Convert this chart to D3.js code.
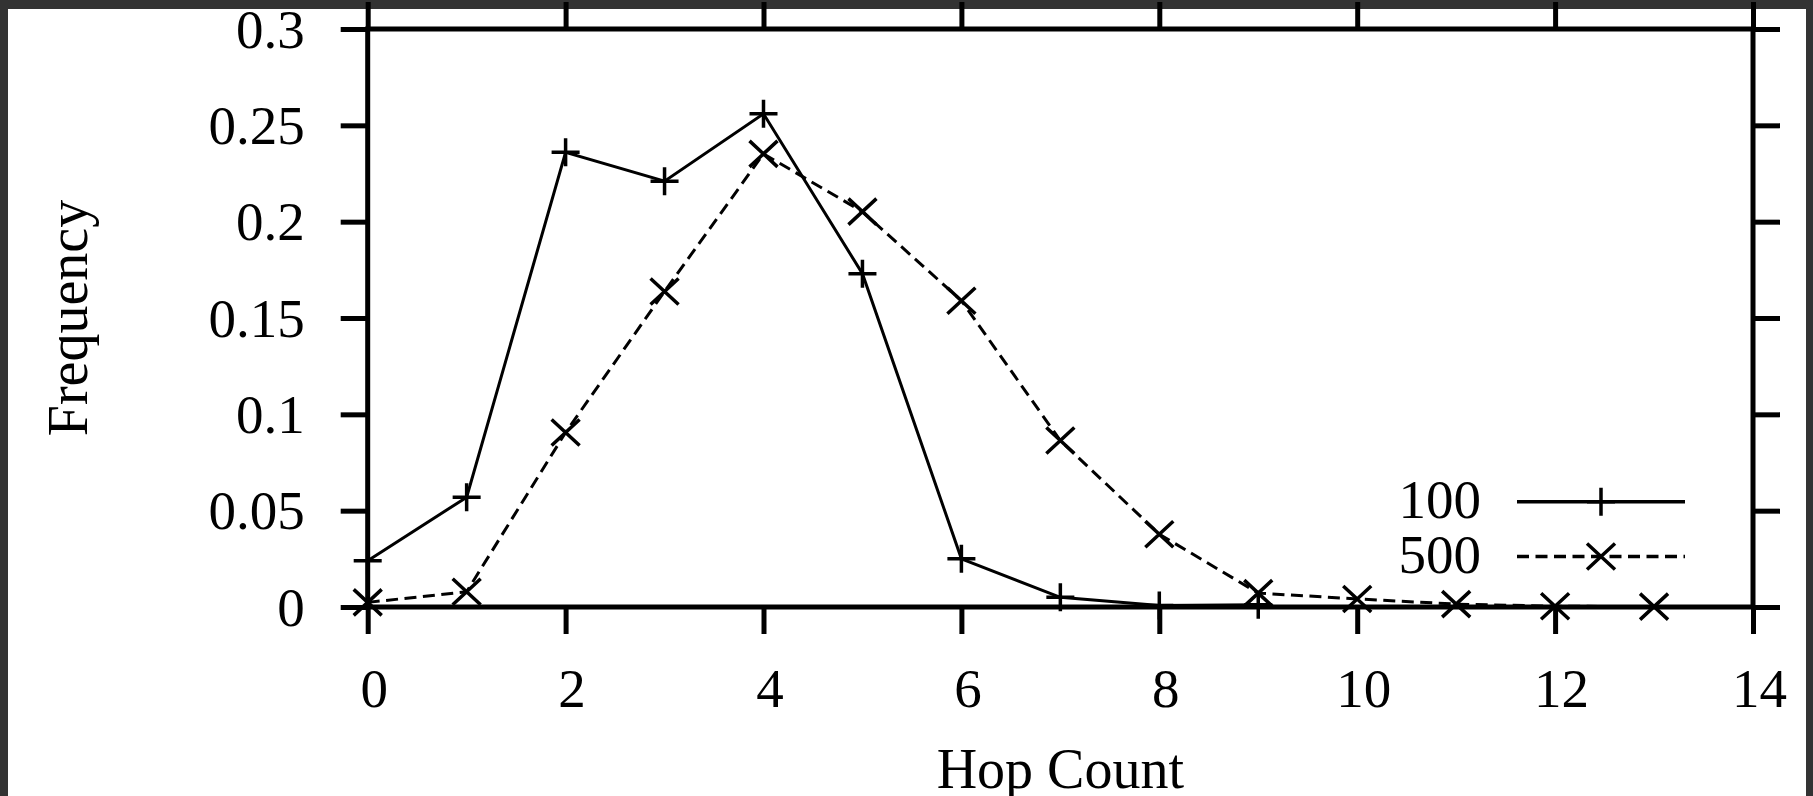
<!DOCTYPE html>
<html>
<head>
<meta charset="utf-8">
<script src="https://cdn.jsdelivr.net/npm/d3@7"></script>
<style>
  html, body { margin: 0; padding: 0; background: #333333; }
  svg { display: block; }
  text { font-family: "Liberation Serif", "DejaVu Serif", serif; fill: #000; }
</style>
</head>
<body>
<svg id="chart" width="1813" height="796"></svg>
<script>
// ---- data ----
const hops100 = [0, 1, 2, 3, 4, 5, 6, 7, 8, 9];
const freq100 = [0.024, 0.057, 0.236, 0.221, 0.256, 0.173, 0.025, 0.005, 0.0008, 0.0012];
const hops500 = [0, 1, 2, 3, 4, 5, 6, 7, 8, 9, 10, 11, 12, 13];
const freq500 = [0.0024, 0.0079, 0.0906, 0.1638, 0.2352, 0.2052, 0.159, 0.0864, 0.0378, 0.0072, 0.0042, 0.0015, 0.0004, 0.0002];
const xTicks = [0, 2, 4, 6, 8, 10, 12, 14];
const yTicks = [0, 0.05, 0.1, 0.15, 0.2, 0.25, 0.3];
const yTickLabels = ["0", "0.05", "0.1", "0.15", "0.2", "0.25", "0.3"];
const seriesNames = ["100", "500"];
const xTitle = "Hop Count";
const yTitle = "Frequency";

// ---- layout ----
const W = 1813, H = 796;
const L = 367.7, R = 1753, T = 29, B = 607;
const svg = d3.select("#chart");

svg.append("rect").attr("x", 8).attr("y", 9).attr("width", 1798).attr("height", H - 9).attr("fill", "#fff");

const x = d3.scaleLinear().domain([0, 14]).range([L, R]);
const y = d3.scaleLinear().domain([0, 0.3]).range([B, T]);

const tick = 27, axW = 5;
const fs = 55;

function styleAxis(g) {
  g.select(".domain").remove();
  g.selectAll(".tick line").attr("stroke", "#000").attr("stroke-width", axW);
  g.selectAll("text").style("font-size", fs + "px").attr("fill", "#000")
    .style("font-family", '"Liberation Serif", serif');
}

// bottom
const gB = svg.append("g").attr("transform", `translate(0,${B})`)
  .call(d3.axisBottom(x).tickValues(xTicks).tickSize(tick).tickSizeOuter(0).tickFormat(d3.format("d")))
  .call(styleAxis);
gB.selectAll("text").attr("y", 100).attr("dy", null).attr("dx", 6);

// top
svg.append("g").attr("transform", `translate(0,${T})`)
  .call(d3.axisTop(x).tickValues(xTicks).tickSize(tick).tickSizeOuter(0).tickFormat(""))
  .call(styleAxis);

// left
const gL = svg.append("g").attr("transform", `translate(${L},0)`)
  .call(d3.axisLeft(y).tickValues(yTicks).tickSize(tick).tickSizeOuter(0)
    .tickFormat((d, i) => yTickLabels[i]))
  .call(styleAxis);
gL.selectAll("text").attr("x", -63).attr("dy", "0.33em");

// right
svg.append("g").attr("transform", `translate(${R},0)`)
  .call(d3.axisRight(y).tickValues(yTicks).tickSize(tick).tickSizeOuter(0).tickFormat(""))
  .call(styleAxis);

// frame
svg.append("rect").attr("x", L).attr("y", T).attr("width", R - L).attr("height", B - T)
  .attr("fill", "none").attr("stroke", "#000").attr("stroke-width", axW);

// titles
svg.append("text").attr("x", (L + R) / 2).attr("y", 788).attr("text-anchor", "middle")
  .style("font-size", "56px").text(xTitle);
svg.append("text").attr("transform", `translate(87,${(T + B) / 2}) rotate(-90)`)
  .attr("text-anchor", "middle").style("font-size", "56px").text(yTitle);

// markers
const plusPath = "M-14,0H14M0,-14V14";
const crossPath = "M-14,-13L14,13M-14,13L14,-13";

const series = [
  { name: seriesNames[0], hops: hops100, vals: freq100, dash: null, marker: plusPath },
  { name: seriesNames[1], hops: hops500, vals: freq500, dash: "12,6.5", marker: crossPath }
];

const line = d3.line().x(d => x(d[0])).y(d => y(d[1]));

series.forEach(s => {
  const pts = s.hops.map((h, i) => [h, s.vals[i]]);
  svg.append("path").attr("d", line(pts)).attr("fill", "none").attr("stroke", "#000")
    .attr("stroke-width", 3).attr("stroke-dasharray", s.dash);
  svg.append("g").selectAll("path").data(pts).join("path")
    .attr("transform", d => `translate(${x(d[0])},${y(d[1])})`)
    .attr("d", s.marker).attr("fill", "none").attr("stroke", "#000").attr("stroke-width", 3.5);
});

// legend
const legY = [501.7, 556.5];
series.forEach((s, i) => {
  const g = svg.append("g").attr("transform", `translate(0,${legY[i]})`);
  g.append("text").attr("x", 1481).attr("y", 16).attr("text-anchor", "end")
    .style("font-size", fs + "px").text(s.name);
  g.append("line").attr("x1", 1517).attr("x2", 1685).attr("y1", 0).attr("y2", 0)
    .attr("stroke", "#000").attr("stroke-width", 3.5).attr("stroke-dasharray", s.dash);
  g.append("path").attr("transform", "translate(1601,0)").attr("d", s.marker)
    .attr("fill", "none").attr("stroke", "#000").attr("stroke-width", 3.5);
});
</script>
</body>
</html>
